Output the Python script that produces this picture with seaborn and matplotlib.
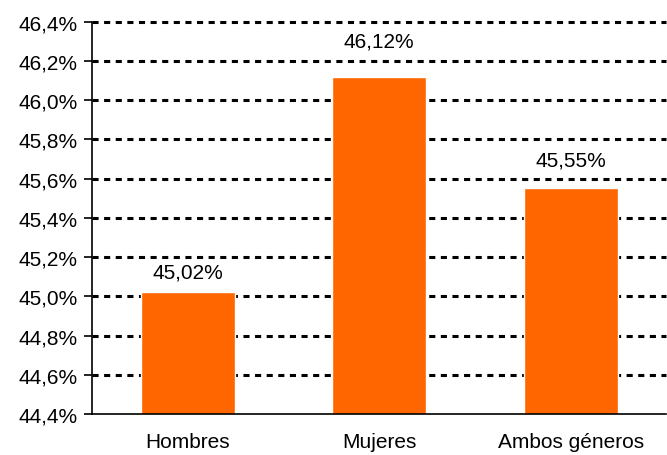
import matplotlib
matplotlib.use("Agg")
import matplotlib.pyplot as plt
import seaborn as sns
import pandas as pd
from matplotlib.ticker import FuncFormatter, FixedLocator

categories = ["Hombres", "Mujeres", "Ambos géneros"]
values = [45.02, 46.12, 45.55]
yticks = [44.4, 44.6, 44.8, 45.0, 45.2, 45.4, 45.6, 45.8, 46.0, 46.2, 46.4]
# label offsets above bar tops (points), as placed in the original
label_offsets = [8, 19, 14]

sns.set_style("white")
plt.rcParams["font.family"] = ["Liberation Sans", "DejaVu Sans"]

df = pd.DataFrame({"cat": categories, "val": values})

fig = plt.figure(figsize=(6.67, 4.56), dpi=100)
ax = fig.add_axes([0.138, 0.09, 0.861, 0.86])

sns.barplot(data=df, x="cat", y="val", color="#FF6600", width=0.49,
            saturation=1, ax=ax, zorder=3)

ax.set_ylim(44.4, 46.4)
ax.set_xlim(-0.5, 2.5)
ax.set_yticks(yticks)
ax.yaxis.set_major_formatter(FuncFormatter(lambda v, p: f"{v:.1f}%".replace(".", ",")))
for y in yticks[1:]:
    ax.axhline(y, color="black", lw=2.2, linestyle=(0, (2.0, 1.8)), zorder=1,
               clip_on=False)

ax.set_xlabel("")
ax.set_ylabel("")
ax.xaxis.set_minor_locator(FixedLocator([-0.5, 0.5, 1.5, 2.5]))
ax.tick_params(axis="x", which="major", length=0, labelsize=15, pad=13,
               labelcolor="black")
ax.tick_params(axis="x", which="minor", length=5, width=1.2, color="black", direction="out")
ax.tick_params(axis="y", length=5.5, width=1.2, color="black", direction="out",
               left=True, labelsize=15, pad=5, labelcolor="black")

for s in ["top", "right"]:
    ax.spines[s].set_visible(False)
for s in ["left", "bottom"]:
    ax.spines[s].set_color("black")
    ax.spines[s].set_linewidth(1.2)
    ax.spines[s].set_zorder(4)

for i, v in enumerate(values):
    ax.annotate(f"{v:.2f}%".replace(".", ","), (i, v), xytext=(0, label_offsets[i]),
                textcoords="offset points", ha="center", va="bottom",
                fontsize=15, color="black", zorder=5)

fig.savefig("out.png", dpi=100)
